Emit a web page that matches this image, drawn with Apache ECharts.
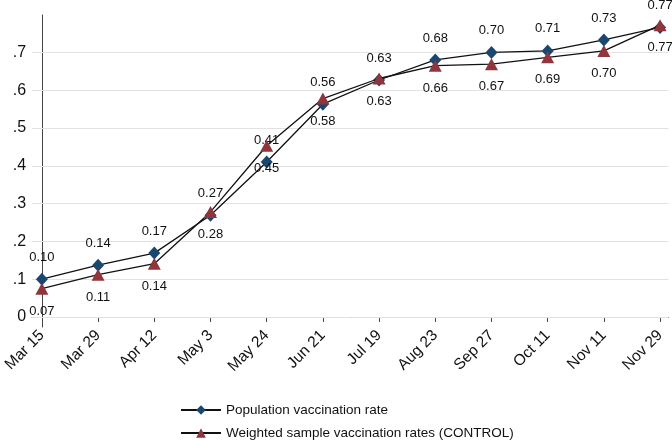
<!DOCTYPE html>
<html>
<head>
<meta charset="utf-8">
<script src="https://cdn.jsdelivr.net/npm/echarts@6/dist/echarts.min.js"></script>
<style>
html,body{margin:0;padding:0;background:#fff;}
#chart{width:672px;height:440px;}
</style>
</head>
<body>
<div id="chart"></div>
<script>
const categories = ['Mar 15','Mar 29','Apr 12','May 3','May 24','Jun 21','Jul 19','Aug 23','Sep 27','Oct 11','Nov 11','Nov 29'];
const populationRate = [0.100, 0.137, 0.169, 0.269, 0.410, 0.563, 0.627, 0.680, 0.700, 0.704, 0.733, 0.766];
const populationLabels = ['0.10','0.14','0.17','0.27','0.41','0.56','0.63','0.68','0.70','0.71','0.73','0.77'];
const controlRate = [0.075, 0.112, 0.141, 0.278, 0.453, 0.578, 0.631, 0.665, 0.669, 0.687, 0.704, 0.772];
const controlLabels = ['0.07','0.11','0.14','0.28','0.45','0.58','0.63','0.66','0.67','0.69','0.70','0.77'];
const yTicks = [0, 0.1, 0.2, 0.3, 0.4, 0.5, 0.6, 0.7];
const seriesNames = ['Population vaccination rate', 'Weighted sample vaccination rates (CONTROL)'];

const xIdx = categories.map((c, i) => i);
const font = 'Liberation Sans, Arial, sans-serif';

const chart = echarts.init(document.getElementById('chart'), null, {renderer: 'canvas'});
chart.setOption({
  animation: false,
  backgroundColor: '#ffffff',
  textStyle: {fontFamily: font},
  grid: {left: 29, right: 3.5, top: 15, bottom: 113},
  xAxis: {
    type: 'value',
    min: -0.175,
    max: 11.15,
    splitLine: {show: false},
    axisLine: {show: true, lineStyle: {color: '#444', width: 1}},
    axisTick: {show: true, length: 5, customValues: xIdx, lineStyle: {color: '#444'}},
    axisLabel: {
      customValues: xIdx,
      rotate: 45,
      margin: 6,
      fontSize: 15.5,
      color: '#111',
      fontFamily: font,
      formatter: v => categories[Math.round(v)]
    }
  },
  yAxis: {
    type: 'value',
    min: -0.0265,
    max: 0.799,
    splitLine: {show: false},
    axisLine: {show: true, lineStyle: {color: '#444', width: 1}},
    axisTick: {show: true, length: 5, customValues: yTicks, lineStyle: {color: '#444'}},
    axisLabel: {
      customValues: yTicks,
      margin: 6,
      fontSize: 16,
      color: '#111',
      fontFamily: font,
      formatter: v => (Math.abs(v) < 1e-9 ? '0' : v.toFixed(1).replace(/^0/, ''))
    }
  },
  legend: {
    orient: 'vertical',
    left: 180,
    top: 403,
    padding: 0,
    height: 40,
    itemWidth: 40,
    itemHeight: 12,
    itemGap: 9,
    textStyle: {fontSize: 13.5, color: '#111', fontFamily: font},
    data: seriesNames
  },
  series: [
    {
      name: seriesNames[0],
      type: 'line',
      z: 3,
      data: populationRate.map((v, i) => [xIdx[i], v]),
      symbol: 'diamond',
      symbolSize: [12, 13],
      itemStyle: {color: '#1a476f'},
      lineStyle: {color: '#111', width: 1.3},
      label: {
        show: true,
        position: 'top',
        distance: 9,
        fontSize: 13,
        color: '#111',
        fontFamily: font,
        formatter: p => populationLabels[p.dataIndex]
      },
      markLine: {
        silent: true,
        symbol: 'none',
        z: 1,
        label: {show: false},
        lineStyle: {color: '#e2e2e2', width: 1, type: 'solid'},
        data: yTicks.map(v => ({yAxis: v}))
      }
    },
    {
      name: seriesNames[1],
      type: 'line',
      z: 4,
      data: controlRate.map((v, i) => [xIdx[i], v]),
      symbol: 'triangle',
      symbolSize: [13, 12],
      itemStyle: {color: '#90353b'},
      lineStyle: {color: '#111', width: 1.3},
      label: {
        show: true,
        position: 'bottom',
        distance: 10,
        fontSize: 13,
        color: '#111',
        fontFamily: font,
        formatter: p => controlLabels[p.dataIndex]
      }
    }
  ]
});
</script>
</body>
</html>
